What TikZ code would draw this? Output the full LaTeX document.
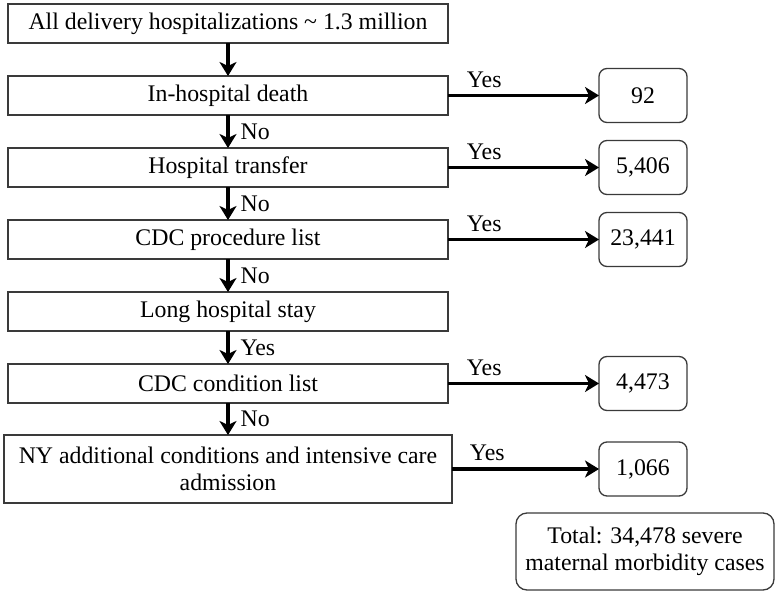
\documentclass[tikz,border=0pt]{standalone}
\usepackage{fontspec}
\setmainfont{Liberation Serif}
\usepackage{tikz}
\usetikzlibrary{positioning,arrows.meta}
\definecolor{cDark}{HTML}{000000}
\definecolor{cEdge}{HTML}{3A3A3A}

\begin{document}
\begin{tikzpicture}[
  x=1pt, y=-1pt,
  font=\fontsize{23.8}{26.5}\selectfont,
  >={Stealth[length=14pt, width=17pt, inset=4pt]},
  crit/.style={draw=cEdge, line width=1.3pt, minimum width=440pt, minimum height=39pt,
               inner sep=3pt, outer sep=0pt, align=center},
  count/.style={draw=cEdge, line width=1.3pt, rounded corners=8pt, minimum width=88pt,
                minimum height=54pt, inner sep=3pt, outer sep=0pt, align=center},
  flow/.style={->, draw=cDark, line width=3.2pt},
  lbl/.style={inner sep=2pt},
  node distance=33pt,
]
\useasboundingbox (0,0) rectangle (777,594);
\node[crit] (all) at (228,23.5) {All delivery hospitalizations \textasciitilde{} 1.3 million};
\node[crit, below=of all] (death) {In-hospital death};
\node[crit, below=of death] (transfer) {Hospital transfer};
\node[crit, below=of transfer] (proclist) {CDC procedure list};
\node[crit, below=of proclist] (longstay) {Long hospital stay};
\node[crit, below=of longstay] (condlist) {CDC condition list};
\node[crit, below=32pt of condlist, minimum width=448pt, minimum height=68pt] (nyadd) {NY additional conditions and intensive care\\admission};

\node[count, right=151pt of death] (n92) {92};
\node[count, right=151pt of transfer] (n5406) {5,406};
\node[count, right=151pt of proclist] (n23441) {23,441};
\node[count, right=151pt of condlist] (n4473) {4,473};
\node[count, right=147pt of nyadd] (n1066) {1,066};
\node[count, below=17pt of n1066, xshift=2pt, minimum width=258pt, minimum height=77pt,
      rounded corners=11pt] (total) {Total: 34,478 severe\\maternal morbidity cases};

\draw[flow] (all) -- (death);
\draw[flow] (death) -- node[lbl, right=9pt]{No} (transfer);
\draw[flow] (transfer) -- node[lbl, right=9pt]{No} (proclist);
\draw[flow] (proclist) -- node[lbl, right=9pt]{No} (longstay);
\draw[flow] (longstay) -- node[lbl, right=9pt]{Yes} (condlist);
\draw[flow] (condlist) -- node[lbl, right=9pt]{No} (nyadd);

\draw[flow] (death) -- node[lbl, above=4.5pt, pos=0.24]{Yes} (n92);
\draw[flow] (transfer) -- node[lbl, above=4.5pt, pos=0.24]{Yes} (n5406);
\draw[flow] (proclist) -- node[lbl, above=4.5pt, pos=0.24]{Yes} (n23441);
\draw[flow] (condlist) -- node[lbl, above=4.5pt, pos=0.24]{Yes} (n4473);
\draw[flow] (nyadd) -- node[lbl, above=4.5pt, pos=0.24]{Yes} (n1066);
\end{tikzpicture}
\end{document}
